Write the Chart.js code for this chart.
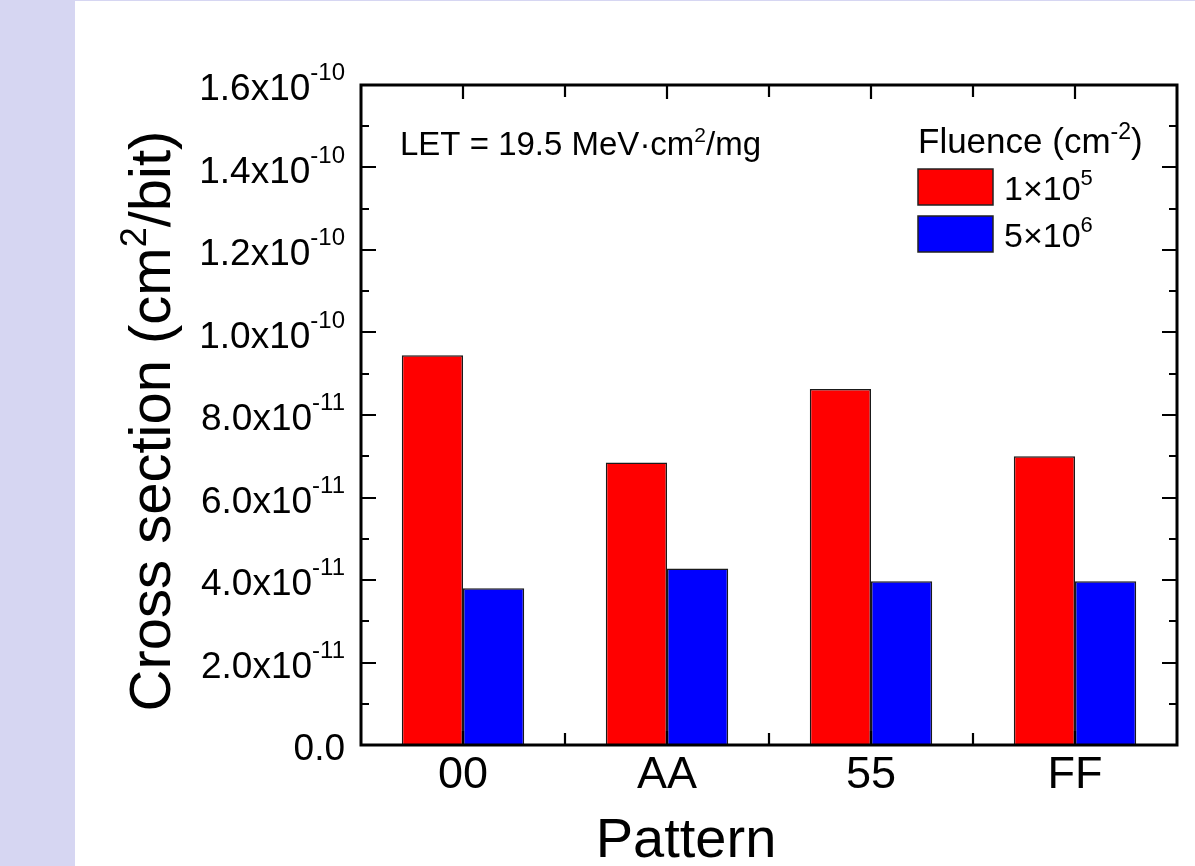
<!DOCTYPE html>
<html>
<head>
<meta charset="utf-8">
<script src="https://cdn.jsdelivr.net/npm/chart.js@4.4.1/dist/chart.umd.min.js"></script>
<style>
  html, body { margin: 0; padding: 0; background: #d6d6f2; width: 1195px; height: 866px; overflow: hidden; }
  #wrap { position: absolute; left: 75px; top: 1px; width: 1120px; height: 865px; background: #fff; }
  canvas { display: block; }
</style>
</head>
<body>
<div id="wrap"><canvas id="c" width="1120" height="865"></canvas></div>
<script>
// ---- data ----
const categories = ['00', 'AA', '55', 'FF'];
const fluence1e5 = [9.45e-11, 6.85e-11, 8.63e-11, 7.0e-11];
const fluence5e6 = [3.8e-11, 4.28e-11, 3.97e-11, 3.97e-11];
const seriesNames = [['1\u00d710', '5'], ['5\u00d710', '6']];
const yTickValues = [0, 2e-11, 4e-11, 6e-11, 8e-11, 1.0e-10, 1.2e-10, 1.4e-10, 1.6e-10];
const yTickLabels = [['0.0', ''], ['2.0x10', '-11'], ['4.0x10', '-11'], ['6.0x10', '-11'], ['8.0x10', '-11'],
                     ['1.0x10', '-10'], ['1.2x10', '-10'], ['1.4x10', '-10'], ['1.6x10', '-10']];
const yMinorValues = [1e-11, 3e-11, 5e-11, 7e-11, 9e-11, 1.1e-10, 1.3e-10, 1.5e-10];
const xTitle = 'Pattern';
const yTitleParts = ['Cross section (cm', '2', '/bit)'];
const letParts = ['LET = 19.5 MeV\u00b7cm', '2', '/mg'];
const legendTitleParts = ['Fluence (cm', '-2', ')'];

const FONT = '"Liberation Sans", Arial, sans-serif';

function drawParts(ctx, parts, x, y, size, supSize, supRise) {
  let cx = x;
  parts.forEach((p, i) => {
    if (!p) return;
    const isSup = i % 2 === 1;
    ctx.font = (isSup ? supSize : size) + 'px ' + FONT;
    ctx.fillText(p, cx, isSup ? y - supRise : y);
    cx += ctx.measureText(p).width;
  });
  return cx - x;
}
function measureParts(ctx, parts, size, supSize) {
  let w = 0;
  parts.forEach((p, i) => {
    if (!p) return;
    ctx.font = ((i % 2 === 1) ? supSize : size) + 'px ' + FONT;
    w += ctx.measureText(p).width;
  });
  return w;
}

const decor = {
  id: 'decor',
  afterDatasetsDraw(chart) {
    const ctx = chart.ctx;
    const a = chart.chartArea;
    const ys = chart.scales.y, xs = chart.scales.x;
    ctx.save();
    ctx.strokeStyle = '#000';
    ctx.fillStyle = '#000';
    // ticks (inward)
    ctx.lineWidth = 2.2;
    ctx.beginPath();
    yTickValues.forEach(v => {
      const py = Math.round(ys.getPixelForValue(v));
      ctx.moveTo(a.left, py); ctx.lineTo(a.left + 15, py);
      ctx.moveTo(a.right, py); ctx.lineTo(a.right - 15, py);
    });
    yMinorValues.forEach(v => {
      const py = Math.round(ys.getPixelForValue(v));
      ctx.moveTo(a.left, py); ctx.lineTo(a.left + 8, py);
      ctx.moveTo(a.right, py); ctx.lineTo(a.right - 8, py);
    });
    categories.forEach((c, i) => {
      const px = Math.round(xs.getPixelForValue(i));
      ctx.moveTo(px, a.top); ctx.lineTo(px, a.top + 14);
      ctx.moveTo(px, a.bottom); ctx.lineTo(px, a.bottom - 14);
      if (i < categories.length - 1) {
        const pm = Math.round(xs.getPixelForValue(i + 0.5));
        ctx.moveTo(pm, a.top); ctx.lineTo(pm, a.top + 12);
        ctx.moveTo(pm, a.bottom); ctx.lineTo(pm, a.bottom - 12);
      }
    });
    ctx.stroke();
    // frame
    ctx.lineWidth = 3;
    ctx.strokeRect(a.left, a.top, a.right - a.left, a.bottom - a.top);

    // y tick labels with superscripts
    ctx.textAlign = 'left';
    ctx.textBaseline = 'alphabetic';
    yTickValues.forEach((v, i) => {
      const py = ys.getPixelForValue(v);
      const parts = yTickLabels[i];
      const w = measureParts(ctx, parts, 37, 24);
      drawParts(ctx, parts, a.left - 16 - w, py + 15, 37, 24, 20);
    });

    // y title (rotated)
    ctx.save();
    ctx.translate(76, 420);
    ctx.rotate(-Math.PI / 2);
    const tw = measureParts(ctx, yTitleParts, 58, 36);
    drawParts(ctx, yTitleParts, -tw / 2, 19, 58, 36, 24);
    ctx.restore();

    // x title
    ctx.font = '56px ' + FONT;
    ctx.textAlign = 'center';
    ctx.fillText(xTitle, 611, 856);

    // LET annotation
    ctx.textAlign = 'left';
    drawParts(ctx, letParts, a.left + 39, a.top + 70, 33, 21, 13);

    // legend
    const lx = a.left + 557;
    drawParts(ctx, legendTitleParts, lx, a.top + 68, 35, 23, 14);
    [fluence1e5, fluence5e6].forEach((d, i) => {
      const ds = chart.data.datasets[i];
      const by = a.top + 84 + i * 47;
      ctx.fillStyle = ds.backgroundColor;
      ctx.fillRect(lx, by, 75, 36);
      ctx.lineWidth = 1.5;
      ctx.strokeStyle = '#222';
      ctx.strokeRect(lx, by, 75, 36);
      ctx.fillStyle = '#000';
      drawParts(ctx, seriesNames[i], lx + 86, by + 31, 34, 22, 15);
    });
    ctx.restore();
  }
};

new Chart(document.getElementById('c'), {
  type: 'bar',
  data: {
    labels: categories,
    datasets: [
      { label: '1e5', data: fluence1e5, backgroundColor: '#ff0000', borderColor: '#1a1a1a', borderWidth: 1.5 },
      { label: '5e6', data: fluence5e6, backgroundColor: '#0000ff', borderColor: '#1a1a1a', borderWidth: 1.5 }
    ]
  },
  options: {
    responsive: false,
    animation: false,
    devicePixelRatio: 1,
    layout: { padding: { left: 0, right: 18, top: 84, bottom: 0 } },
    plugins: { legend: { display: false }, tooltip: { enabled: false } },
    datasets: { bar: { categoryPercentage: 0.6, barPercentage: 1.0 } },
    scales: {
      x: {
        grid: { display: false, drawTicks: false },
        border: { display: false },
        ticks: { color: '#000', font: { family: FONT, size: 45 }, padding: 4, maxRotation: 0 },
        afterFit(s) { s.height = 121; }
      },
      y: {
        min: 0, max: 1.6e-10,
        grid: { display: false, drawTicks: false },
        border: { display: false },
        ticks: { display: false, stepSize: 2e-11 },
        afterFit(s) { s.width = 286; }
      }
    }
  },
  plugins: [decor]
});
</script>
</body>
</html>
